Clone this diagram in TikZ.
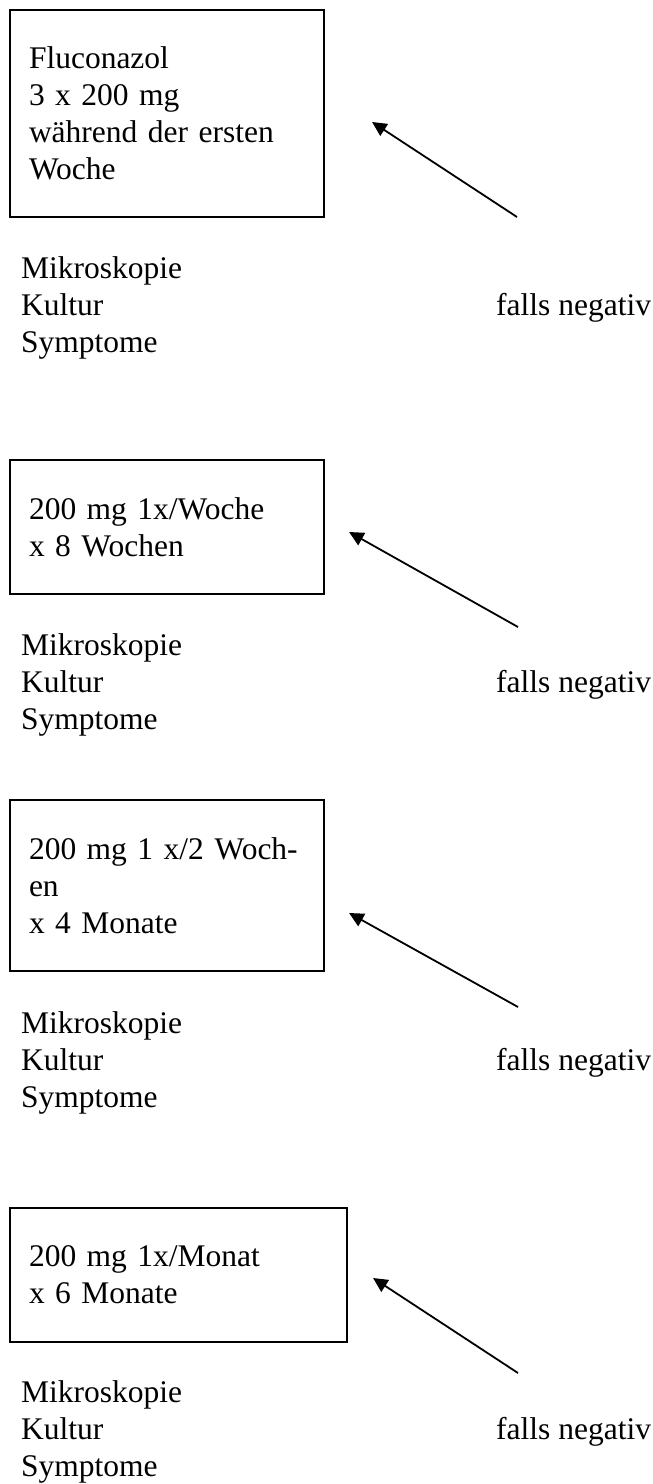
\documentclass[tikz,border=0pt]{standalone}
\usepackage{fontspec}
\setmainfont{Liberation Serif}
\usetikzlibrary{calc, arrows.meta}

\begin{document}
\begin{tikzpicture}[x=1pt, y=-1pt, font=\fontsize{31.5}{37}\selectfont]
    \tikzstyle{dosebox} = [rectangle, draw, line width=2.2pt, align=left, text width=276pt, inner xsep=19pt, inner ysep=0pt]
    \tikzstyle{findings} = [anchor=base west, inner sep=0pt]
    \tikzstyle{stepback} = [-{Triangle[length=14.5pt, width=14pt]}, line width=1.8pt]

    \useasboundingbox (0, 0) rectangle (653, 1484);

    % First week ---------------------------------------
    \node (dose1) at (167, 113.5) [dosebox, minimum height=207pt] {Fluconazol\\3 x 200 mg\\während der ersten\\Woche};
    \node (mik1) at (21, 278) [findings] {Mikroskopie};
    \node (kul1) at ($(mik1.base west) + (0, 37)$) [findings] {Kultur};
    \node (sym1) at ($(kul1.base west) + (0, 37)$) [findings] {Symptome};
    \node (neg1) at ($(kul1.base west) + (475, 0)$) [findings] {falls negativ};
    \draw [stepback] ($(neg1.base west) + (21, -98)$) -- ($(dose1.east) + (47, 8.5)$);

    % Weekly -------------------------------------------
    \node (dose2) at (167, 527) [dosebox, minimum height=134pt] {200 mg 1x/Woche\\x 8 Wochen};
    \node (mik2) at (21, 655) [findings] {Mikroskopie};
    \node (kul2) at ($(mik2.base west) + (0, 37)$) [findings] {Kultur};
    \node (sym2) at ($(kul2.base west) + (0, 37)$) [findings] {Symptome};
    \node (neg2) at ($(kul2.base west) + (475, 0)$) [findings] {falls negativ};
    \draw [stepback] ($(neg2.base west) + (22, -65)$) -- ($(dose2.east) + (24, 5)$);

    % Every two weeks ----------------------------------
    \node (dose3) at (167, 885.5) [dosebox, minimum height=171pt] {200 mg 1 x/2 Woch-\\en\\x 4 Monate};
    \node (mik3) at (21, 1033) [findings] {Mikroskopie};
    \node (kul3) at ($(mik3.base west) + (0, 37)$) [findings] {Kultur};
    \node (sym3) at ($(kul3.base west) + (0, 37)$) [findings] {Symptome};
    \node (neg3) at ($(kul3.base west) + (475, 0)$) [findings] {falls negativ};
    \draw [stepback] ($(neg3.base west) + (22, -63)$) -- ($(dose3.east) + (24, 27.5)$);

    % Monthly ------------------------------------------
    \node (dose4) at (178.5, 1275) [dosebox, text width=299pt, minimum height=134pt] {200 mg 1x/Monat\\x 6 Monate};
    \node (mik4) at (21, 1402) [findings] {Mikroskopie};
    \node (kul4) at ($(mik4.base west) + (0, 37)$) [findings] {Kultur};
    \node (sym4) at ($(kul4.base west) + (0, 37)$) [findings] {Symptome};
    \node (neg4) at ($(kul4.base west) + (475, 0)$) [findings] {falls negativ};
    \draw [stepback] ($(neg4.base west) + (22, -66)$) -- ($(dose4.east) + (25, 3)$);
\end{tikzpicture}
\end{document}
